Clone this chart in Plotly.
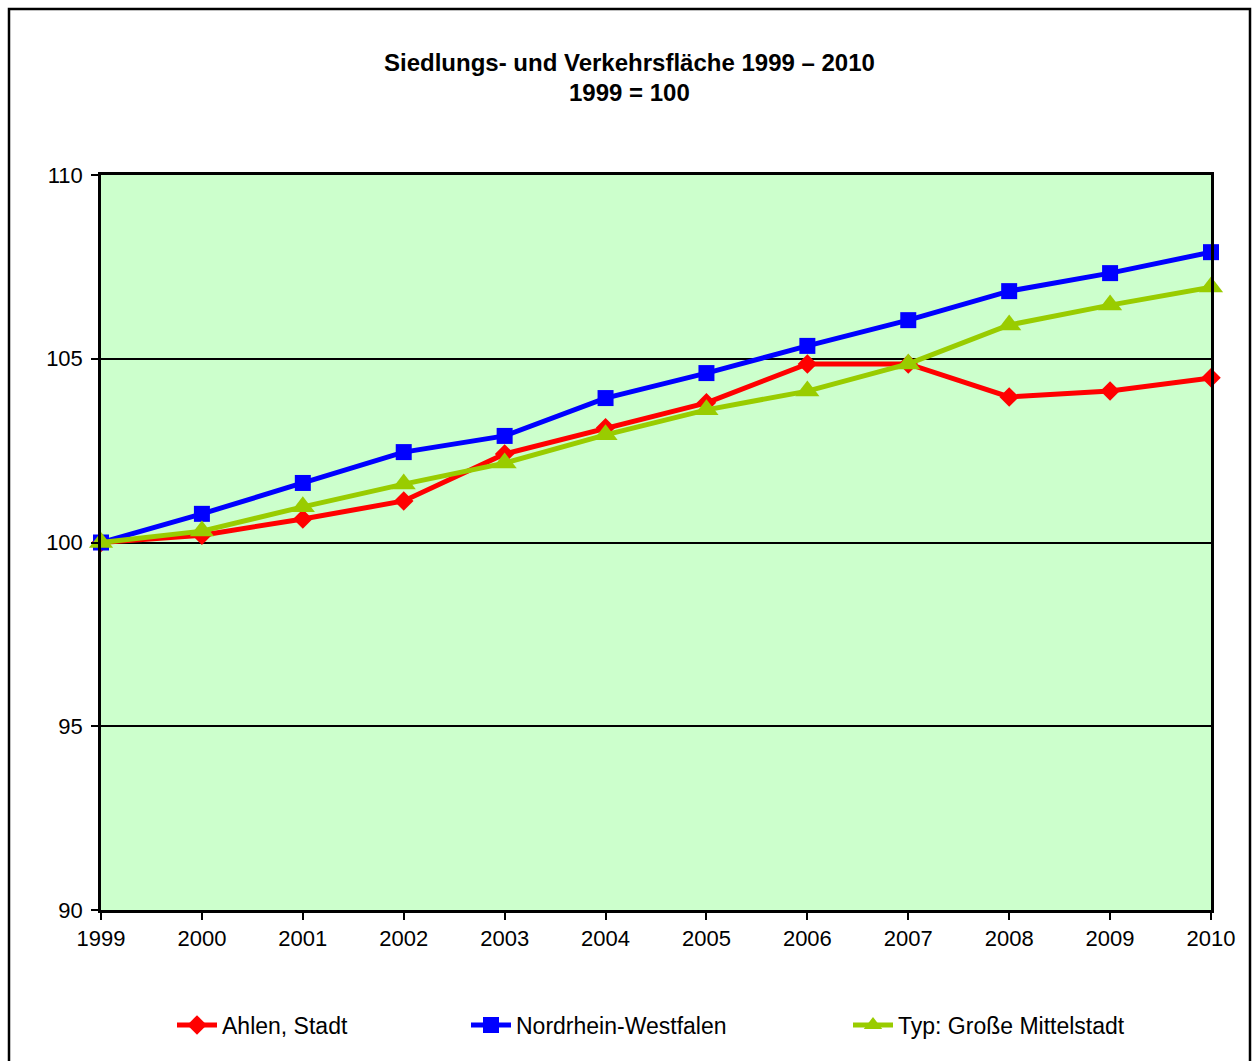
import plotly.graph_objects as go

years = [1999, 2000, 2001, 2002, 2003, 2004, 2005, 2006, 2007, 2008, 2009, 2010]
ahlen = [100.0, 100.2, 100.64, 101.13, 102.41, 103.12, 103.80, 104.86, 104.86, 103.96, 104.12, 104.48]
nrw = [100.0, 100.78, 101.62, 102.46, 102.90, 103.93, 104.61, 105.35, 106.05, 106.84, 107.33, 107.90]
typ = [100.0, 100.31, 100.97, 101.59, 102.16, 102.93, 103.61, 104.12, 104.86, 105.92, 106.46, 106.95]

names = ["Ahlen, Stadt", "Nordrhein-Westfalen", "Typ: Große Mittelstadt"]
colors = ["#FF0000", "#0000FF", "#99CC00"]
symbols = ["diamond", "square", "triangle-up"]
msizes = [15, 16, 21]
series = [ahlen, nrw, typ]
legends = ["legend", "legend2", "legend3"]

W, H = 1253, 1061
L, R, T, B = 101, 1211, 175, 910
pw, ph = R - L, B - T

fig = go.Figure()
for name, col, sym, ms, vals, lg in zip(names, colors, symbols, msizes, series, legends):
    fig.add_trace(go.Scatter(
        x=years, y=vals, name=name, mode="lines+markers",
        line=dict(color=col, width=5),
        marker=dict(symbol=sym, size=ms, color=col, line=dict(width=0)),
        cliponaxis=False, legend=lg,
    ))

FAM = "Liberation Sans, Arial, sans-serif"
tickfont = dict(family=FAM, size=22, color="black")
legfont = dict(family=FAM, size=23, color="black")
titlefont = dict(family=FAM, size=24, color="black")

def leg(text_start_px):
    return dict(
        orientation="h", x=(text_start_px - 52 - L) / pw, xanchor="left",
        y=(B - 1025) / ph, yanchor="middle",
        font=legfont, bgcolor="rgba(0,0,0,0)", itemwidth=40,
    )

fig.update_layout(
    width=W, height=H,
    margin=dict(l=L, r=W - R, t=T, b=H - B),
    paper_bgcolor="white", plot_bgcolor="#CCFFCC",
    showlegend=True,
    legend=leg(224), legend2=leg(518), legend3=leg(900),
    font=tickfont,
    xaxis=dict(
        range=[1999, 2010], tickmode="array", tickvals=years,
        ticktext=[str(y) for y in years],
        showgrid=False, zeroline=False,
        showline=True, linecolor="black", linewidth=2.5, mirror=True,
        ticks="outside", ticklen=7, tickwidth=2, tickcolor="black",
        tickfont=tickfont,
    ),
    yaxis=dict(
        range=[90, 110], tickmode="array", tickvals=[90, 95, 100, 105, 110],
        showgrid=True, gridcolor="black", gridwidth=2, zeroline=False,
        showline=True, linecolor="black", linewidth=2.5, mirror=True,
        ticks="outside", ticklen=7, tickwidth=2, tickcolor="black",
        tickfont=tickfont, ticklabelstandoff=4,
    ),
    annotations=[
        dict(text="<b>Siedlungs- und Verkehrsfläche 1999 – 2010</b>",
             xref="paper", yref="paper", x=(629 - L) / pw, y=(B - 62) / ph,
             xanchor="center", yanchor="middle", showarrow=False,
             font=titlefont),
        dict(text="<b>1999 = 100</b>",
             xref="paper", yref="paper", x=(629 - L) / pw, y=(B - 93) / ph,
             xanchor="center", yanchor="middle", showarrow=False,
             font=titlefont),
    ],
    shapes=[
        dict(type="rect", xref="paper", yref="paper",
             x0=(9 - L) / pw, x1=(1250 - L) / pw,
             y0=(B - 1075) / ph, y1=(B - 9) / ph,
             line=dict(color="black", width=2.5), fillcolor="rgba(0,0,0,0)", layer="below"),
    ],
)

fig.write_html(
    "out.html",
    config={"displayModeBar": False},
    post_script="document.body.style.margin='0';document.body.style.overflow='hidden';",
)
